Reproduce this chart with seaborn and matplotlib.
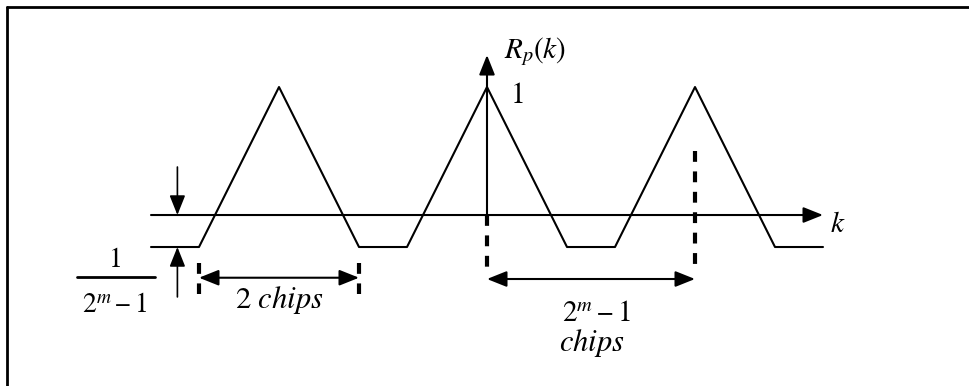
import matplotlib
matplotlib.use("Agg")
import matplotlib.pyplot as plt
from matplotlib.lines import Line2D
import seaborn as sns
import pandas as pd

# Periodic autocorrelation of an m-sequence (k in chips)
k_vertices = [-4.2, -3.6, -2.6, -1.6, -1.0, 0.0, 1.0, 1.6, 2.6, 3.6, 4.2]
r_vertices = [-0.25, -0.25, 1.0, -0.25, -0.25, 1.0, -0.25, -0.25, 1.0, -0.25, -0.25]

# Axes extents
k_axis = [-4.2, 4.2]
r_axis_top = 1.25

# Dimension markers
chip_span = [-3.6, -1.6]        # one peak base: 2 chips
period_span = [0.0, 2.6]        # one period: 2^m - 1 chips
offset_marker_k = -3.87

sns.set_theme(style="white")
plt.rcParams["font.family"] = ["TeX Gyre Termes", "Liberation Serif", "DejaVu Serif"]
plt.rcParams["mathtext.fontset"] = "custom"
plt.rcParams["mathtext.rm"] = "TeX Gyre Termes"
plt.rcParams["mathtext.it"] = "TeX Gyre Termes:italic"
plt.rcParams["text.color"] = "black"

fig = plt.figure(figsize=(9.70, 3.86), dpi=100)
ax = fig.add_axes([0, 0, 1, 1])
ax.set_xlim(-6.0875, 6.0375)
ax.set_ylim(-1.336, 1.68)
ax.axis("off")

df = pd.DataFrame({"k": k_vertices, "R": r_vertices})
sns.lineplot(data=df, x="k", y="R", sort=False, estimator=None,
             color="black", lw=1.5, ax=ax)

head = "-|>,head_length=0.6,head_width=0.24"


def arrow(x0, y0, x1, y1, lw=1.5, style=head):
    ax.annotate("", xy=(x1, y1), xytext=(x0, y0),
                arrowprops=dict(arrowstyle=style, mutation_scale=20, lw=lw,
                                color="black", shrinkA=0, shrinkB=0))


# k axis and R axis
arrow(k_axis[0], 0, k_axis[1], 0)
arrow(0, 0, 0, r_axis_top)

# offset markers for the floor level
arrow(offset_marker_k, 0.375, offset_marker_k, 0.0, lw=1.2)
arrow(offset_marker_k, -0.64, offset_marker_k, r_vertices[0], lw=1.2)

# dashed guides
dash = dict(color="black", lw=3, linestyle=(0, (2.6, 2.3)))
ax.plot([chip_span[0]] * 2, [-0.375, -0.615], **dash)
ax.plot([chip_span[1]] * 2, [-0.375, -0.615], **dash)
ax.plot([period_span[0]] * 2, [0.0, -0.405], **dash)
ax.plot([period_span[1]] * 2, [0.5, -0.405], **dash)

# double-headed span arrows
both = "<|-|>,head_length=0.6,head_width=0.24"
arrow(chip_span[0], -0.49, chip_span[1], -0.49, style=both)
arrow(period_span[0], -0.50, period_span[1], -0.50, style=both)

fs = 21
ax.text(0.6, 1.227, r"$R_p(k)$", fontsize=fs, ha="center", va="baseline")
ax.text(0.39, 0.875, "1", fontsize=fs, ha="center", va="baseline")
ax.text(4.39, -0.133, r"$k$", fontsize=fs, ha="center", va="baseline")

# floor level 1/(2^m - 1)
ax.text(-4.64, -0.406, "1", fontsize=fs - 1, ha="center", va="baseline")
ax.plot([-5.125, -4.15], [-0.484, -0.484], color="black", lw=2)
ax.text(-4.65, -0.758, r"$2^{m}-1$", fontsize=fs - 1, ha="center", va="baseline")

ax.text(-2.6, -0.727, r"2 $chips$", fontsize=fs + 1, ha="center", va="baseline")
ax.text(1.36, -0.83, r"$2^{m}-1$", fontsize=fs, ha="center", va="baseline")
ax.text(1.31, -1.065, r"$chips$", fontsize=fs + 1, ha="center", va="baseline")

# frame edges
fig.add_artist(Line2D([7 / 970, 1.0], [1 - 7 / 386, 1 - 7 / 386],
                      transform=fig.transFigure, color="black", lw=2))
fig.add_artist(Line2D([7 / 970, 7 / 970], [0.0, 1 - 7 / 386],
                      transform=fig.transFigure, color="black", lw=2))

fig.savefig("out.png", dpi=100)
